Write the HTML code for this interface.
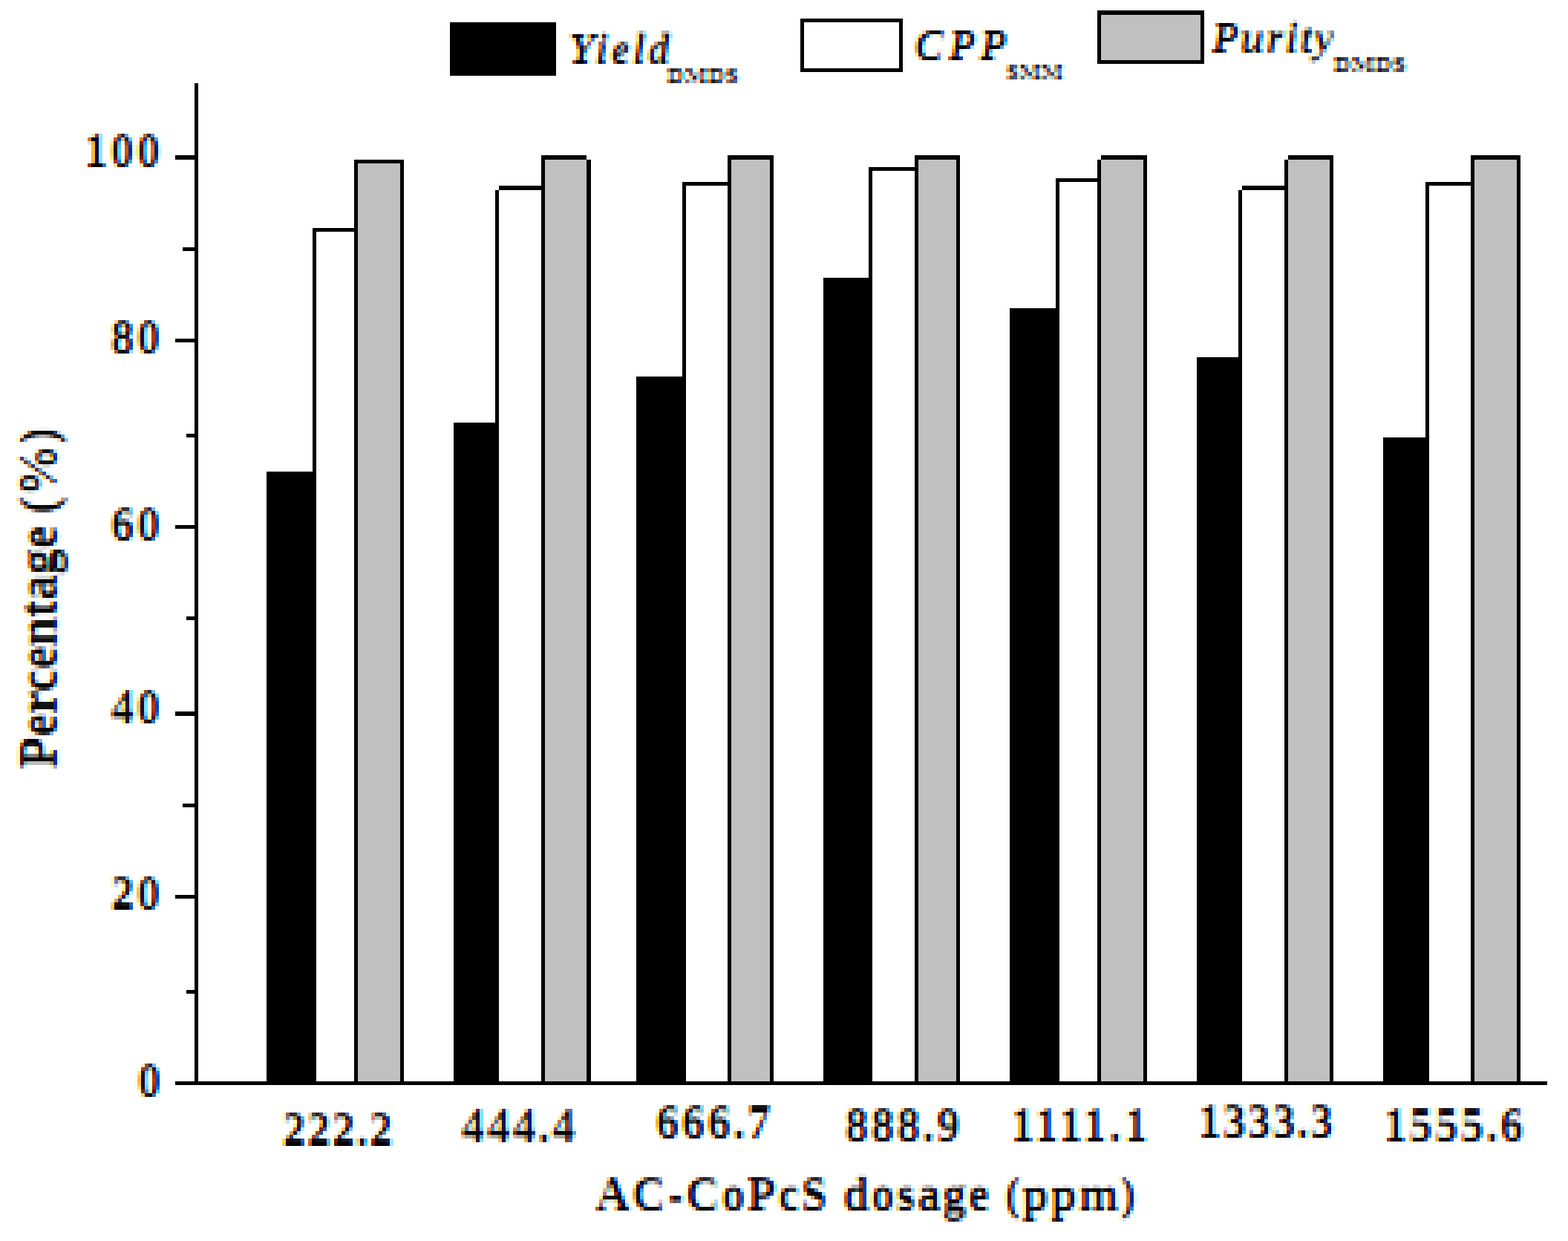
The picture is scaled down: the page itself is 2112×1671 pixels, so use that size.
<!DOCTYPE html>
<html lang="en"><head><meta charset="utf-8"><title>Percentage vs AC-CoPcS dosage</title>
<style>
html,body{margin:0;padding:0;background:#fff;}
body{width:2112px;height:1671px;overflow:hidden;}
svg{display:block;}
text{font-family:"Liberation Serif","DejaVu Serif",serif;font-weight:bold;fill:#000;}
.t>*{mix-blend-mode:multiply;}
.i{font-style:italic;}
.r{shape-rendering:crispEdges;}
</style></head><body>
<svg width="2112" height="1671" viewBox="0 0 2112 1671">
<rect width="2112" height="1671" fill="#fff"/>
<defs>
<filter id="f0" filterUnits="userSpaceOnUse" x="103" y="170" width="125" height="80" color-interpolation-filters="sRGB">
<feMorphology in="SourceAlpha" operator="dilate" radius="0 1" result="d"/>
<feMorphology in="d" operator="erode" radius="1 0" result="e"/>
<feComposite in="d" in2="e" operator="arithmetic" k1="0" k2="0.0" k3="1.0" k4="0" result="th"/>
<feGaussianBlur in="th" stdDeviation="1.7 1.3" result="a"/>
<feOffset in="a" dx="2" dy="0" result="ar"/>
<feOffset in="a" dx="-2" dy="0" result="ab"/>
<feColorMatrix in="ar" type="matrix" values="0 0 0 -1 1  0 0 0 0 0  0 0 0 0 0  0 0 0 0 1" result="r"/>
<feColorMatrix in="a" type="matrix" values="0 0 0 0 0  0 0 0 -1 1  0 0 0 0 0  0 0 0 0 1" result="g"/>
<feColorMatrix in="ab" type="matrix" values="0 0 0 0 0  0 0 0 0 0  0 0 0 -1 1  0 0 0 0 1" result="b"/>
<feBlend in="r" in2="g" mode="screen" result="rg"/>
<feBlend in="rg" in2="b" mode="screen" result="rgb"/>
<feFlood x="105" y="172" width="1" height="1" flood-color="#000"/>
<feComposite x="103" y="170" width="5" height="5"/>
<feTile result="grid"/>
<feComposite in="rgb" in2="grid" operator="in"/>
<feMorphology operator="dilate" radius="2"/>
</filter>
<filter id="f1" filterUnits="userSpaceOnUse" x="139" y="421" width="90" height="80" color-interpolation-filters="sRGB">
<feMorphology in="SourceAlpha" operator="dilate" radius="0 1" result="d"/>
<feMorphology in="d" operator="erode" radius="1 0" result="e"/>
<feComposite in="d" in2="e" operator="arithmetic" k1="0" k2="0.0" k3="1.0" k4="0" result="th"/>
<feGaussianBlur in="th" stdDeviation="1.7 1.3" result="a"/>
<feOffset in="a" dx="2" dy="0" result="ar"/>
<feOffset in="a" dx="-2" dy="0" result="ab"/>
<feColorMatrix in="ar" type="matrix" values="0 0 0 -1 1  0 0 0 0 0  0 0 0 0 0  0 0 0 0 1" result="r"/>
<feColorMatrix in="a" type="matrix" values="0 0 0 0 0  0 0 0 -1 1  0 0 0 0 0  0 0 0 0 1" result="g"/>
<feColorMatrix in="ab" type="matrix" values="0 0 0 0 0  0 0 0 0 0  0 0 0 -1 1  0 0 0 0 1" result="b"/>
<feBlend in="r" in2="g" mode="screen" result="rg"/>
<feBlend in="rg" in2="b" mode="screen" result="rgb"/>
<feFlood x="141" y="423" width="1" height="1" flood-color="#000"/>
<feComposite x="139" y="421" width="5" height="5"/>
<feTile result="grid"/>
<feComposite in="rgb" in2="grid" operator="in"/>
<feMorphology operator="dilate" radius="2"/>
</filter>
<filter id="f2" filterUnits="userSpaceOnUse" x="139" y="673" width="90" height="80" color-interpolation-filters="sRGB">
<feMorphology in="SourceAlpha" operator="dilate" radius="0 1" result="d"/>
<feMorphology in="d" operator="erode" radius="1 0" result="e"/>
<feComposite in="d" in2="e" operator="arithmetic" k1="0" k2="0.0" k3="1.0" k4="0" result="th"/>
<feGaussianBlur in="th" stdDeviation="1.7 1.3" result="a"/>
<feOffset in="a" dx="2" dy="0" result="ar"/>
<feOffset in="a" dx="-2" dy="0" result="ab"/>
<feColorMatrix in="ar" type="matrix" values="0 0 0 -1 1  0 0 0 0 0  0 0 0 0 0  0 0 0 0 1" result="r"/>
<feColorMatrix in="a" type="matrix" values="0 0 0 0 0  0 0 0 -1 1  0 0 0 0 0  0 0 0 0 1" result="g"/>
<feColorMatrix in="ab" type="matrix" values="0 0 0 0 0  0 0 0 0 0  0 0 0 -1 1  0 0 0 0 1" result="b"/>
<feBlend in="r" in2="g" mode="screen" result="rg"/>
<feBlend in="rg" in2="b" mode="screen" result="rgb"/>
<feFlood x="141" y="675" width="1" height="1" flood-color="#000"/>
<feComposite x="139" y="673" width="5" height="5"/>
<feTile result="grid"/>
<feComposite in="rgb" in2="grid" operator="in"/>
<feMorphology operator="dilate" radius="2"/>
</filter>
<filter id="f3" filterUnits="userSpaceOnUse" x="139" y="919" width="90" height="80" color-interpolation-filters="sRGB">
<feMorphology in="SourceAlpha" operator="dilate" radius="0 1" result="d"/>
<feMorphology in="d" operator="erode" radius="1 0" result="e"/>
<feComposite in="d" in2="e" operator="arithmetic" k1="0" k2="0.0" k3="1.0" k4="0" result="th"/>
<feGaussianBlur in="th" stdDeviation="1.7 1.3" result="a"/>
<feOffset in="a" dx="2" dy="0" result="ar"/>
<feOffset in="a" dx="-2" dy="0" result="ab"/>
<feColorMatrix in="ar" type="matrix" values="0 0 0 -1 1  0 0 0 0 0  0 0 0 0 0  0 0 0 0 1" result="r"/>
<feColorMatrix in="a" type="matrix" values="0 0 0 0 0  0 0 0 -1 1  0 0 0 0 0  0 0 0 0 1" result="g"/>
<feColorMatrix in="ab" type="matrix" values="0 0 0 0 0  0 0 0 0 0  0 0 0 -1 1  0 0 0 0 1" result="b"/>
<feBlend in="r" in2="g" mode="screen" result="rg"/>
<feBlend in="rg" in2="b" mode="screen" result="rgb"/>
<feFlood x="141" y="921" width="1" height="1" flood-color="#000"/>
<feComposite x="139" y="919" width="5" height="5"/>
<feTile result="grid"/>
<feComposite in="rgb" in2="grid" operator="in"/>
<feMorphology operator="dilate" radius="2"/>
</filter>
<filter id="f4" filterUnits="userSpaceOnUse" x="139" y="1170" width="90" height="80" color-interpolation-filters="sRGB">
<feMorphology in="SourceAlpha" operator="dilate" radius="0 1" result="d"/>
<feMorphology in="d" operator="erode" radius="1 0" result="e"/>
<feComposite in="d" in2="e" operator="arithmetic" k1="0" k2="0.0" k3="1.0" k4="0" result="th"/>
<feGaussianBlur in="th" stdDeviation="1.7 1.3" result="a"/>
<feOffset in="a" dx="2" dy="0" result="ar"/>
<feOffset in="a" dx="-2" dy="0" result="ab"/>
<feColorMatrix in="ar" type="matrix" values="0 0 0 -1 1  0 0 0 0 0  0 0 0 0 0  0 0 0 0 1" result="r"/>
<feColorMatrix in="a" type="matrix" values="0 0 0 0 0  0 0 0 -1 1  0 0 0 0 0  0 0 0 0 1" result="g"/>
<feColorMatrix in="ab" type="matrix" values="0 0 0 0 0  0 0 0 0 0  0 0 0 -1 1  0 0 0 0 1" result="b"/>
<feBlend in="r" in2="g" mode="screen" result="rg"/>
<feBlend in="rg" in2="b" mode="screen" result="rgb"/>
<feFlood x="141" y="1172" width="1" height="1" flood-color="#000"/>
<feComposite x="139" y="1170" width="5" height="5"/>
<feTile result="grid"/>
<feComposite in="rgb" in2="grid" operator="in"/>
<feMorphology operator="dilate" radius="2"/>
</filter>
<filter id="f5" filterUnits="userSpaceOnUse" x="175" y="1422" width="55" height="80" color-interpolation-filters="sRGB">
<feMorphology in="SourceAlpha" operator="dilate" radius="0 1" result="d"/>
<feMorphology in="d" operator="erode" radius="1 0" result="e"/>
<feComposite in="d" in2="e" operator="arithmetic" k1="0" k2="0.0" k3="1.0" k4="0" result="th"/>
<feGaussianBlur in="th" stdDeviation="1.7 1.3" result="a"/>
<feOffset in="a" dx="2" dy="0" result="ar"/>
<feOffset in="a" dx="-2" dy="0" result="ab"/>
<feColorMatrix in="ar" type="matrix" values="0 0 0 -1 1  0 0 0 0 0  0 0 0 0 0  0 0 0 0 1" result="r"/>
<feColorMatrix in="a" type="matrix" values="0 0 0 0 0  0 0 0 -1 1  0 0 0 0 0  0 0 0 0 1" result="g"/>
<feColorMatrix in="ab" type="matrix" values="0 0 0 0 0  0 0 0 0 0  0 0 0 -1 1  0 0 0 0 1" result="b"/>
<feBlend in="r" in2="g" mode="screen" result="rg"/>
<feBlend in="rg" in2="b" mode="screen" result="rgb"/>
<feFlood x="177" y="1424" width="1" height="1" flood-color="#000"/>
<feComposite x="175" y="1422" width="5" height="5"/>
<feTile result="grid"/>
<feComposite in="rgb" in2="grid" operator="in"/>
<feMorphology operator="dilate" radius="2"/>
</filter>
<filter id="f6" filterUnits="userSpaceOnUse" x="370" y="1488" width="170" height="80" color-interpolation-filters="sRGB">
<feMorphology in="SourceAlpha" operator="dilate" radius="0 1" result="d"/>
<feMorphology in="d" operator="erode" radius="1 0" result="e"/>
<feComposite in="d" in2="e" operator="arithmetic" k1="0" k2="0.0" k3="1.0" k4="0" result="th"/>
<feGaussianBlur in="th" stdDeviation="1.7 1.3" result="a"/>
<feOffset in="a" dx="2" dy="0" result="ar"/>
<feOffset in="a" dx="-2" dy="0" result="ab"/>
<feColorMatrix in="ar" type="matrix" values="0 0 0 -1 1  0 0 0 0 0  0 0 0 0 0  0 0 0 0 1" result="r"/>
<feColorMatrix in="a" type="matrix" values="0 0 0 0 0  0 0 0 -1 1  0 0 0 0 0  0 0 0 0 1" result="g"/>
<feColorMatrix in="ab" type="matrix" values="0 0 0 0 0  0 0 0 0 0  0 0 0 -1 1  0 0 0 0 1" result="b"/>
<feBlend in="r" in2="g" mode="screen" result="rg"/>
<feBlend in="rg" in2="b" mode="screen" result="rgb"/>
<feFlood x="372" y="1490" width="1" height="1" flood-color="#000"/>
<feComposite x="370" y="1488" width="5" height="5"/>
<feTile result="grid"/>
<feComposite in="rgb" in2="grid" operator="in"/>
<feMorphology operator="dilate" radius="2"/>
</filter>
<filter id="f7" filterUnits="userSpaceOnUse" x="611" y="1483" width="175" height="80" color-interpolation-filters="sRGB">
<feMorphology in="SourceAlpha" operator="dilate" radius="0 1" result="d"/>
<feMorphology in="d" operator="erode" radius="1 0" result="e"/>
<feComposite in="d" in2="e" operator="arithmetic" k1="0" k2="0.0" k3="1.0" k4="0" result="th"/>
<feGaussianBlur in="th" stdDeviation="1.7 1.3" result="a"/>
<feOffset in="a" dx="2" dy="0" result="ar"/>
<feOffset in="a" dx="-2" dy="0" result="ab"/>
<feColorMatrix in="ar" type="matrix" values="0 0 0 -1 1  0 0 0 0 0  0 0 0 0 0  0 0 0 0 1" result="r"/>
<feColorMatrix in="a" type="matrix" values="0 0 0 0 0  0 0 0 -1 1  0 0 0 0 0  0 0 0 0 1" result="g"/>
<feColorMatrix in="ab" type="matrix" values="0 0 0 0 0  0 0 0 0 0  0 0 0 -1 1  0 0 0 0 1" result="b"/>
<feBlend in="r" in2="g" mode="screen" result="rg"/>
<feBlend in="rg" in2="b" mode="screen" result="rgb"/>
<feFlood x="613" y="1485" width="1" height="1" flood-color="#000"/>
<feComposite x="611" y="1483" width="5" height="5"/>
<feTile result="grid"/>
<feComposite in="rgb" in2="grid" operator="in"/>
<feMorphology operator="dilate" radius="2"/>
</filter>
<filter id="f8" filterUnits="userSpaceOnUse" x="873" y="1478" width="175" height="80" color-interpolation-filters="sRGB">
<feMorphology in="SourceAlpha" operator="dilate" radius="0 1" result="d"/>
<feMorphology in="d" operator="erode" radius="1 0" result="e"/>
<feComposite in="d" in2="e" operator="arithmetic" k1="0" k2="0.0" k3="1.0" k4="0" result="th"/>
<feGaussianBlur in="th" stdDeviation="1.7 1.3" result="a"/>
<feOffset in="a" dx="2" dy="0" result="ar"/>
<feOffset in="a" dx="-2" dy="0" result="ab"/>
<feColorMatrix in="ar" type="matrix" values="0 0 0 -1 1  0 0 0 0 0  0 0 0 0 0  0 0 0 0 1" result="r"/>
<feColorMatrix in="a" type="matrix" values="0 0 0 0 0  0 0 0 -1 1  0 0 0 0 0  0 0 0 0 1" result="g"/>
<feColorMatrix in="ab" type="matrix" values="0 0 0 0 0  0 0 0 0 0  0 0 0 -1 1  0 0 0 0 1" result="b"/>
<feBlend in="r" in2="g" mode="screen" result="rg"/>
<feBlend in="rg" in2="b" mode="screen" result="rgb"/>
<feFlood x="875" y="1480" width="1" height="1" flood-color="#000"/>
<feComposite x="873" y="1478" width="5" height="5"/>
<feTile result="grid"/>
<feComposite in="rgb" in2="grid" operator="in"/>
<feMorphology operator="dilate" radius="2"/>
</filter>
<filter id="f9" filterUnits="userSpaceOnUse" x="1128" y="1482" width="175" height="80" color-interpolation-filters="sRGB">
<feMorphology in="SourceAlpha" operator="dilate" radius="0 1" result="d"/>
<feMorphology in="d" operator="erode" radius="1 0" result="e"/>
<feComposite in="d" in2="e" operator="arithmetic" k1="0" k2="0.0" k3="1.0" k4="0" result="th"/>
<feGaussianBlur in="th" stdDeviation="1.7 1.3" result="a"/>
<feOffset in="a" dx="2" dy="0" result="ar"/>
<feOffset in="a" dx="-2" dy="0" result="ab"/>
<feColorMatrix in="ar" type="matrix" values="0 0 0 -1 1  0 0 0 0 0  0 0 0 0 0  0 0 0 0 1" result="r"/>
<feColorMatrix in="a" type="matrix" values="0 0 0 0 0  0 0 0 -1 1  0 0 0 0 0  0 0 0 0 1" result="g"/>
<feColorMatrix in="ab" type="matrix" values="0 0 0 0 0  0 0 0 0 0  0 0 0 -1 1  0 0 0 0 1" result="b"/>
<feBlend in="r" in2="g" mode="screen" result="rg"/>
<feBlend in="rg" in2="b" mode="screen" result="rgb"/>
<feFlood x="1130" y="1484" width="1" height="1" flood-color="#000"/>
<feComposite x="1128" y="1482" width="5" height="5"/>
<feTile result="grid"/>
<feComposite in="rgb" in2="grid" operator="in"/>
<feMorphology operator="dilate" radius="2"/>
</filter>
<filter id="f10" filterUnits="userSpaceOnUse" x="1351" y="1482" width="205" height="80" color-interpolation-filters="sRGB">
<feMorphology in="SourceAlpha" operator="dilate" radius="0 1" result="d"/>
<feMorphology in="d" operator="erode" radius="1 0" result="e"/>
<feComposite in="d" in2="e" operator="arithmetic" k1="0" k2="0.0" k3="1.0" k4="0" result="th"/>
<feGaussianBlur in="th" stdDeviation="1.7 1.3" result="a"/>
<feOffset in="a" dx="2" dy="0" result="ar"/>
<feOffset in="a" dx="-2" dy="0" result="ab"/>
<feColorMatrix in="ar" type="matrix" values="0 0 0 -1 1  0 0 0 0 0  0 0 0 0 0  0 0 0 0 1" result="r"/>
<feColorMatrix in="a" type="matrix" values="0 0 0 0 0  0 0 0 -1 1  0 0 0 0 0  0 0 0 0 1" result="g"/>
<feColorMatrix in="ab" type="matrix" values="0 0 0 0 0  0 0 0 0 0  0 0 0 -1 1  0 0 0 0 1" result="b"/>
<feBlend in="r" in2="g" mode="screen" result="rg"/>
<feBlend in="rg" in2="b" mode="screen" result="rgb"/>
<feFlood x="1353" y="1484" width="1" height="1" flood-color="#000"/>
<feComposite x="1351" y="1482" width="5" height="5"/>
<feTile result="grid"/>
<feComposite in="rgb" in2="grid" operator="in"/>
<feMorphology operator="dilate" radius="2"/>
</filter>
<filter id="f11" filterUnits="userSpaceOnUse" x="1603" y="1477" width="205" height="80" color-interpolation-filters="sRGB">
<feMorphology in="SourceAlpha" operator="dilate" radius="0 1" result="d"/>
<feMorphology in="d" operator="erode" radius="1 0" result="e"/>
<feComposite in="d" in2="e" operator="arithmetic" k1="0" k2="0.0" k3="1.0" k4="0" result="th"/>
<feGaussianBlur in="th" stdDeviation="1.7 1.3" result="a"/>
<feOffset in="a" dx="2" dy="0" result="ar"/>
<feOffset in="a" dx="-2" dy="0" result="ab"/>
<feColorMatrix in="ar" type="matrix" values="0 0 0 -1 1  0 0 0 0 0  0 0 0 0 0  0 0 0 0 1" result="r"/>
<feColorMatrix in="a" type="matrix" values="0 0 0 0 0  0 0 0 -1 1  0 0 0 0 0  0 0 0 0 1" result="g"/>
<feColorMatrix in="ab" type="matrix" values="0 0 0 0 0  0 0 0 0 0  0 0 0 -1 1  0 0 0 0 1" result="b"/>
<feBlend in="r" in2="g" mode="screen" result="rg"/>
<feBlend in="rg" in2="b" mode="screen" result="rgb"/>
<feFlood x="1605" y="1479" width="1" height="1" flood-color="#000"/>
<feComposite x="1603" y="1477" width="5" height="5"/>
<feTile result="grid"/>
<feComposite in="rgb" in2="grid" operator="in"/>
<feMorphology operator="dilate" radius="2"/>
</filter>
<filter id="f12" filterUnits="userSpaceOnUse" x="1853" y="1482" width="210" height="80" color-interpolation-filters="sRGB">
<feMorphology in="SourceAlpha" operator="dilate" radius="0 1" result="d"/>
<feMorphology in="d" operator="erode" radius="1 0" result="e"/>
<feComposite in="d" in2="e" operator="arithmetic" k1="0" k2="0.0" k3="1.0" k4="0" result="th"/>
<feGaussianBlur in="th" stdDeviation="1.7 1.3" result="a"/>
<feOffset in="a" dx="2" dy="0" result="ar"/>
<feOffset in="a" dx="-2" dy="0" result="ab"/>
<feColorMatrix in="ar" type="matrix" values="0 0 0 -1 1  0 0 0 0 0  0 0 0 0 0  0 0 0 0 1" result="r"/>
<feColorMatrix in="a" type="matrix" values="0 0 0 0 0  0 0 0 -1 1  0 0 0 0 0  0 0 0 0 1" result="g"/>
<feColorMatrix in="ab" type="matrix" values="0 0 0 0 0  0 0 0 0 0  0 0 0 -1 1  0 0 0 0 1" result="b"/>
<feBlend in="r" in2="g" mode="screen" result="rg"/>
<feBlend in="rg" in2="b" mode="screen" result="rgb"/>
<feFlood x="1855" y="1484" width="1" height="1" flood-color="#000"/>
<feComposite x="1853" y="1482" width="5" height="5"/>
<feTile result="grid"/>
<feComposite in="rgb" in2="grid" operator="in"/>
<feMorphology operator="dilate" radius="2"/>
</filter>
<filter id="f13" filterUnits="userSpaceOnUse" x="792" y="1575" width="750" height="80" color-interpolation-filters="sRGB">
<feMorphology in="SourceAlpha" operator="dilate" radius="0 1" result="d"/>
<feMorphology in="d" operator="erode" radius="1 0" result="e"/>
<feComposite in="d" in2="e" operator="arithmetic" k1="0" k2="0.0" k3="1.0" k4="0" result="th"/>
<feGaussianBlur in="th" stdDeviation="1.7 1.3" result="a"/>
<feOffset in="a" dx="2" dy="0" result="ar"/>
<feOffset in="a" dx="-2" dy="0" result="ab"/>
<feColorMatrix in="ar" type="matrix" values="0 0 0 -1 1  0 0 0 0 0  0 0 0 0 0  0 0 0 0 1" result="r"/>
<feColorMatrix in="a" type="matrix" values="0 0 0 0 0  0 0 0 -1 1  0 0 0 0 0  0 0 0 0 1" result="g"/>
<feColorMatrix in="ab" type="matrix" values="0 0 0 0 0  0 0 0 0 0  0 0 0 -1 1  0 0 0 0 1" result="b"/>
<feBlend in="r" in2="g" mode="screen" result="rg"/>
<feBlend in="rg" in2="b" mode="screen" result="rgb"/>
<feFlood x="794" y="1577" width="1" height="1" flood-color="#000"/>
<feComposite x="792" y="1575" width="5" height="5"/>
<feTile result="grid"/>
<feComposite in="rgb" in2="grid" operator="in"/>
<feMorphology operator="dilate" radius="2"/>
</filter>
<filter id="f14" filterUnits="userSpaceOnUse" x="756" y="36" width="160" height="75" color-interpolation-filters="sRGB">
<feMorphology in="SourceAlpha" operator="dilate" radius="0 1" result="d"/>
<feMorphology in="d" operator="erode" radius="1 0" result="e"/>
<feComposite in="d" in2="e" operator="arithmetic" k1="0" k2="0.0" k3="1.0" k4="0" result="th"/>
<feGaussianBlur in="th" stdDeviation="1.7 1.3" result="a"/>
<feOffset in="a" dx="2" dy="0" result="ar"/>
<feOffset in="a" dx="-2" dy="0" result="ab"/>
<feColorMatrix in="ar" type="matrix" values="0 0 0 -1 1  0 0 0 0 0  0 0 0 0 0  0 0 0 0 1" result="r"/>
<feColorMatrix in="a" type="matrix" values="0 0 0 0 0  0 0 0 -1 1  0 0 0 0 0  0 0 0 0 1" result="g"/>
<feColorMatrix in="ab" type="matrix" values="0 0 0 0 0  0 0 0 0 0  0 0 0 -1 1  0 0 0 0 1" result="b"/>
<feBlend in="r" in2="g" mode="screen" result="rg"/>
<feBlend in="rg" in2="b" mode="screen" result="rgb"/>
<feFlood x="758" y="38" width="1" height="1" flood-color="#000"/>
<feComposite x="756" y="36" width="5" height="5"/>
<feTile result="grid"/>
<feComposite in="rgb" in2="grid" operator="in"/>
<feMorphology operator="dilate" radius="2"/>
</filter>
<filter id="f15" filterUnits="userSpaceOnUse" x="888" y="87" width="120" height="40" color-interpolation-filters="sRGB">
<feMorphology in="SourceAlpha" operator="dilate" radius="0 1" result="d"/>
<feMorphology in="d" operator="erode" radius="1 0" result="e"/>
<feComposite in="d" in2="e" operator="arithmetic" k1="0" k2="0.0" k3="1.0" k4="0" result="th"/>
<feGaussianBlur in="th" stdDeviation="1.7 1.3" result="a"/>
<feOffset in="a" dx="2" dy="0" result="ar"/>
<feOffset in="a" dx="-2" dy="0" result="ab"/>
<feColorMatrix in="ar" type="matrix" values="0 0 0 -1 1  0 0 0 0 0  0 0 0 0 0  0 0 0 0 1" result="r"/>
<feColorMatrix in="a" type="matrix" values="0 0 0 0 0  0 0 0 -1 1  0 0 0 0 0  0 0 0 0 1" result="g"/>
<feColorMatrix in="ab" type="matrix" values="0 0 0 0 0  0 0 0 0 0  0 0 0 -1 1  0 0 0 0 1" result="b"/>
<feBlend in="r" in2="g" mode="screen" result="rg"/>
<feBlend in="rg" in2="b" mode="screen" result="rgb"/>
<feFlood x="890" y="89" width="1" height="1" flood-color="#000"/>
<feComposite x="888" y="87" width="5" height="5"/>
<feTile result="grid"/>
<feComposite in="rgb" in2="grid" operator="in"/>
<feMorphology operator="dilate" radius="2"/>
</filter>
<filter id="f16" filterUnits="userSpaceOnUse" x="1222" y="31" width="145" height="75" color-interpolation-filters="sRGB">
<feMorphology in="SourceAlpha" operator="dilate" radius="0 1" result="d"/>
<feMorphology in="d" operator="erode" radius="1 0" result="e"/>
<feComposite in="d" in2="e" operator="arithmetic" k1="0" k2="0.0" k3="1.0" k4="0" result="th"/>
<feGaussianBlur in="th" stdDeviation="1.7 1.3" result="a"/>
<feOffset in="a" dx="2" dy="0" result="ar"/>
<feOffset in="a" dx="-2" dy="0" result="ab"/>
<feColorMatrix in="ar" type="matrix" values="0 0 0 -1 1  0 0 0 0 0  0 0 0 0 0  0 0 0 0 1" result="r"/>
<feColorMatrix in="a" type="matrix" values="0 0 0 0 0  0 0 0 -1 1  0 0 0 0 0  0 0 0 0 1" result="g"/>
<feColorMatrix in="ab" type="matrix" values="0 0 0 0 0  0 0 0 0 0  0 0 0 -1 1  0 0 0 0 1" result="b"/>
<feBlend in="r" in2="g" mode="screen" result="rg"/>
<feBlend in="rg" in2="b" mode="screen" result="rgb"/>
<feFlood x="1224" y="33" width="1" height="1" flood-color="#000"/>
<feComposite x="1222" y="31" width="5" height="5"/>
<feTile result="grid"/>
<feComposite in="rgb" in2="grid" operator="in"/>
<feMorphology operator="dilate" radius="2"/>
</filter>
<filter id="f17" filterUnits="userSpaceOnUse" x="1345" y="82" width="100" height="40" color-interpolation-filters="sRGB">
<feMorphology in="SourceAlpha" operator="dilate" radius="0 1" result="d"/>
<feMorphology in="d" operator="erode" radius="1 0" result="e"/>
<feComposite in="d" in2="e" operator="arithmetic" k1="0" k2="0.0" k3="1.0" k4="0" result="th"/>
<feGaussianBlur in="th" stdDeviation="1.7 1.3" result="a"/>
<feOffset in="a" dx="2" dy="0" result="ar"/>
<feOffset in="a" dx="-2" dy="0" result="ab"/>
<feColorMatrix in="ar" type="matrix" values="0 0 0 -1 1  0 0 0 0 0  0 0 0 0 0  0 0 0 0 1" result="r"/>
<feColorMatrix in="a" type="matrix" values="0 0 0 0 0  0 0 0 -1 1  0 0 0 0 0  0 0 0 0 1" result="g"/>
<feColorMatrix in="ab" type="matrix" values="0 0 0 0 0  0 0 0 0 0  0 0 0 -1 1  0 0 0 0 1" result="b"/>
<feBlend in="r" in2="g" mode="screen" result="rg"/>
<feBlend in="rg" in2="b" mode="screen" result="rgb"/>
<feFlood x="1347" y="84" width="1" height="1" flood-color="#000"/>
<feComposite x="1345" y="82" width="5" height="5"/>
<feTile result="grid"/>
<feComposite in="rgb" in2="grid" operator="in"/>
<feMorphology operator="dilate" radius="2"/>
</filter>
<filter id="f18" filterUnits="userSpaceOnUse" x="1622" y="21" width="185" height="75" color-interpolation-filters="sRGB">
<feMorphology in="SourceAlpha" operator="dilate" radius="0 1" result="d"/>
<feMorphology in="d" operator="erode" radius="1 0" result="e"/>
<feComposite in="d" in2="e" operator="arithmetic" k1="0" k2="0.0" k3="1.0" k4="0" result="th"/>
<feGaussianBlur in="th" stdDeviation="1.7 1.3" result="a"/>
<feOffset in="a" dx="2" dy="0" result="ar"/>
<feOffset in="a" dx="-2" dy="0" result="ab"/>
<feColorMatrix in="ar" type="matrix" values="0 0 0 -1 1  0 0 0 0 0  0 0 0 0 0  0 0 0 0 1" result="r"/>
<feColorMatrix in="a" type="matrix" values="0 0 0 0 0  0 0 0 -1 1  0 0 0 0 0  0 0 0 0 1" result="g"/>
<feColorMatrix in="ab" type="matrix" values="0 0 0 0 0  0 0 0 0 0  0 0 0 -1 1  0 0 0 0 1" result="b"/>
<feBlend in="r" in2="g" mode="screen" result="rg"/>
<feBlend in="rg" in2="b" mode="screen" result="rgb"/>
<feFlood x="1624" y="23" width="1" height="1" flood-color="#000"/>
<feComposite x="1622" y="21" width="5" height="5"/>
<feTile result="grid"/>
<feComposite in="rgb" in2="grid" operator="in"/>
<feMorphology operator="dilate" radius="2"/>
</filter>
<filter id="f19" filterUnits="userSpaceOnUse" x="1786" y="72" width="120" height="40" color-interpolation-filters="sRGB">
<feMorphology in="SourceAlpha" operator="dilate" radius="0 1" result="d"/>
<feMorphology in="d" operator="erode" radius="1 0" result="e"/>
<feComposite in="d" in2="e" operator="arithmetic" k1="0" k2="0.0" k3="1.0" k4="0" result="th"/>
<feGaussianBlur in="th" stdDeviation="1.7 1.3" result="a"/>
<feOffset in="a" dx="2" dy="0" result="ar"/>
<feOffset in="a" dx="-2" dy="0" result="ab"/>
<feColorMatrix in="ar" type="matrix" values="0 0 0 -1 1  0 0 0 0 0  0 0 0 0 0  0 0 0 0 1" result="r"/>
<feColorMatrix in="a" type="matrix" values="0 0 0 0 0  0 0 0 -1 1  0 0 0 0 0  0 0 0 0 1" result="g"/>
<feColorMatrix in="ab" type="matrix" values="0 0 0 0 0  0 0 0 0 0  0 0 0 -1 1  0 0 0 0 1" result="b"/>
<feBlend in="r" in2="g" mode="screen" result="rg"/>
<feBlend in="rg" in2="b" mode="screen" result="rgb"/>
<feFlood x="1788" y="74" width="1" height="1" flood-color="#000"/>
<feComposite x="1786" y="72" width="5" height="5"/>
<feTile result="grid"/>
<feComposite in="rgb" in2="grid" operator="in"/>
<feMorphology operator="dilate" radius="2"/>
</filter>
<filter id="f20" filterUnits="userSpaceOnUse" x="7" y="555" width="100" height="495" color-interpolation-filters="sRGB">
<feMorphology in="SourceAlpha" operator="dilate" radius="1 0" result="d"/>
<feMorphology in="d" operator="erode" radius="0 1" result="e"/>
<feComposite in="d" in2="e" operator="arithmetic" k1="0" k2="0.0" k3="1.0" k4="0" result="th"/>
<feGaussianBlur in="th" stdDeviation="1.7 1.3" result="a"/>
<feOffset in="a" dx="2" dy="0" result="ar"/>
<feOffset in="a" dx="-2" dy="0" result="ab"/>
<feColorMatrix in="ar" type="matrix" values="0 0 0 -1 1  0 0 0 0 0  0 0 0 0 0  0 0 0 0 1" result="r"/>
<feColorMatrix in="a" type="matrix" values="0 0 0 0 0  0 0 0 -1 1  0 0 0 0 0  0 0 0 0 1" result="g"/>
<feColorMatrix in="ab" type="matrix" values="0 0 0 0 0  0 0 0 0 0  0 0 0 -1 1  0 0 0 0 1" result="b"/>
<feBlend in="r" in2="g" mode="screen" result="rg"/>
<feBlend in="rg" in2="b" mode="screen" result="rgb"/>
<feFlood x="9" y="557" width="1" height="1" flood-color="#000"/>
<feComposite x="7" y="555" width="5" height="5"/>
<feTile result="grid"/>
<feComposite in="rgb" in2="grid" operator="in"/>
<feMorphology operator="dilate" radius="2"/>
</filter>
</defs>
<g class="t">
<text filter="url(#f0)" x="113" y="224" font-size="64" textLength="103" lengthAdjust="spacing">100</text>
<text filter="url(#f1)" x="149" y="475" font-size="64" textLength="67" lengthAdjust="spacing">80</text>
<text filter="url(#f2)" x="149" y="727" font-size="64" textLength="67" lengthAdjust="spacing">60</text>
<text filter="url(#f3)" x="149" y="973" font-size="64" textLength="67" lengthAdjust="spacing">40</text>
<text filter="url(#f4)" x="149" y="1224" font-size="64" textLength="67" lengthAdjust="spacing">20</text>
<text filter="url(#f5)" x="185" y="1476" font-size="64" textLength="31" lengthAdjust="spacing">0</text>
<text filter="url(#f6)" x="380" y="1542" font-size="64" textLength="149" lengthAdjust="spacing">222.2</text>
<text filter="url(#f7)" x="621" y="1537" font-size="64" textLength="154" lengthAdjust="spacing">444.4</text>
<text filter="url(#f8)" x="883" y="1532" font-size="64" textLength="155" lengthAdjust="spacing">666.7</text>
<text filter="url(#f9)" x="1138" y="1536" font-size="64" textLength="155" lengthAdjust="spacing">888.9</text>
<text filter="url(#f10)" x="1361" y="1536" font-size="64" textLength="185" lengthAdjust="spacing">1111.1</text>
<text filter="url(#f11)" x="1613" y="1531" font-size="64" textLength="183" lengthAdjust="spacing">1333.3</text>
<text filter="url(#f12)" x="1863" y="1536" font-size="64" textLength="189" lengthAdjust="spacing">1555.6</text>
<text filter="url(#f13)" x="802" y="1629" font-size="64" textLength="728" lengthAdjust="spacing">AC-CoPcS dosage (ppm)</text>
<text class="i" filter="url(#f14)" x="766" y="85" font-size="58" textLength="136" lengthAdjust="spacing">Yield</text>
<text filter="url(#f15)" x="898" y="111" font-size="27" textLength="97" lengthAdjust="spacingAndGlyphs">DMDS</text>
<text class="i" filter="url(#f16)" x="1232" y="80" font-size="58" textLength="123" lengthAdjust="spacing">CPP</text>
<text filter="url(#f17)" x="1355" y="106" font-size="27" textLength="77" lengthAdjust="spacingAndGlyphs">SMM</text>
<text class="i" filter="url(#f18)" x="1632" y="70" font-size="58" textLength="164" lengthAdjust="spacing">Purity</text>
<text filter="url(#f19)" x="1796" y="96" font-size="27" textLength="98" lengthAdjust="spacingAndGlyphs">DMDS</text>
<g filter="url(#f20)"><text transform="translate(75 1035) rotate(-90)" font-size="72" textLength="460" lengthAdjust="spacing">Percentage (%)</text></g>
</g>
<g class="r">
<rect x="359" y="635" width="67" height="826" fill="#000"/>
<rect x="421" y="307" width="5" height="1154" fill="#000"/>
<rect x="421" y="307" width="56" height="5" fill="#000"/>
<rect x="482" y="220" width="57" height="1236" fill="#c0c0c0"/>
<rect x="477" y="215" width="5" height="1246" fill="#000"/>
<rect x="477" y="215" width="67" height="5" fill="#000"/>
<rect x="539" y="215" width="5" height="1246" fill="#000"/>
<rect x="611" y="569" width="61" height="892" fill="#000"/>
<rect x="667" y="256" width="5" height="1205" fill="#000"/>
<rect x="672" y="250" width="57" height="6" fill="#000"/>
<rect x="734" y="215" width="56" height="1241" fill="#c0c0c0"/>
<rect x="729" y="209" width="5" height="1252" fill="#000"/>
<rect x="729" y="209" width="61" height="6" fill="#000"/>
<rect x="790" y="215" width="6" height="1246" fill="#000"/>
<rect x="857" y="507" width="67" height="954" fill="#000"/>
<rect x="919" y="245" width="5" height="1216" fill="#000"/>
<rect x="919" y="245" width="61" height="5" fill="#000"/>
<rect x="985" y="215" width="52" height="1241" fill="#c0c0c0"/>
<rect x="980" y="209" width="5" height="1252" fill="#000"/>
<rect x="980" y="209" width="62" height="6" fill="#000"/>
<rect x="1037" y="209" width="5" height="1252" fill="#000"/>
<rect x="1109" y="374" width="66" height="1087" fill="#000"/>
<rect x="1170" y="225" width="5" height="1236" fill="#000"/>
<rect x="1170" y="225" width="62" height="5" fill="#000"/>
<rect x="1237" y="215" width="51" height="1241" fill="#c0c0c0"/>
<rect x="1232" y="209" width="5" height="1252" fill="#000"/>
<rect x="1232" y="209" width="61" height="6" fill="#000"/>
<rect x="1288" y="209" width="5" height="1252" fill="#000"/>
<rect x="1360" y="415" width="67" height="1046" fill="#000"/>
<rect x="1422" y="240" width="5" height="1221" fill="#000"/>
<rect x="1422" y="240" width="56" height="5" fill="#000"/>
<rect x="1483" y="215" width="57" height="1241" fill="#c0c0c0"/>
<rect x="1478" y="215" width="5" height="1246" fill="#000"/>
<rect x="1483" y="209" width="62" height="6" fill="#000"/>
<rect x="1540" y="209" width="5" height="1252" fill="#000"/>
<rect x="1612" y="481" width="61" height="980" fill="#000"/>
<rect x="1668" y="256" width="5" height="1205" fill="#000"/>
<rect x="1673" y="250" width="57" height="6" fill="#000"/>
<rect x="1735" y="215" width="56" height="1241" fill="#c0c0c0"/>
<rect x="1730" y="215" width="5" height="1246" fill="#000"/>
<rect x="1735" y="209" width="61" height="6" fill="#000"/>
<rect x="1791" y="209" width="5" height="1252" fill="#000"/>
<rect x="1863" y="589" width="62" height="872" fill="#000"/>
<rect x="1920" y="245" width="5" height="1216" fill="#000"/>
<rect x="1920" y="245" width="61" height="5" fill="#000"/>
<rect x="1986" y="215" width="57" height="1241" fill="#c0c0c0"/>
<rect x="1981" y="209" width="5" height="1252" fill="#000"/>
<rect x="1981" y="209" width="67" height="6" fill="#000"/>
<rect x="2043" y="209" width="5" height="1252" fill="#000"/>
<rect x="262" y="112" width="5" height="1349" fill="#000"/>
<rect x="236" y="1456" width="1848" height="5" fill="#000"/>
<rect x="236" y="209" width="28" height="6" fill="#000"/>
<rect x="236" y="456" width="28" height="5" fill="#000"/>
<rect x="236" y="707" width="28" height="5" fill="#000"/>
<rect x="236" y="958" width="28" height="6" fill="#000"/>
<rect x="236" y="1205" width="28" height="5" fill="#000"/>
<rect x="246" y="333" width="18" height="5" fill="#000"/>
<rect x="251" y="584" width="13" height="5" fill="#000"/>
<rect x="251" y="830" width="13" height="5" fill="#000"/>
<rect x="246" y="1082" width="18" height="5" fill="#000"/>
<rect x="251" y="1333" width="13" height="5" fill="#000"/>
<rect x="606" y="30" width="143" height="72" fill="#000"/>
<rect x="1080.5" y="27.5" width="133" height="67" fill="#fff" stroke="#000" stroke-width="5"/>
<rect x="1478" y="14" width="144" height="72" fill="#000"/>
<rect x="1483" y="20" width="134" height="61" fill="#c0c0c0"/>
</g>
</svg>
</body></html>
